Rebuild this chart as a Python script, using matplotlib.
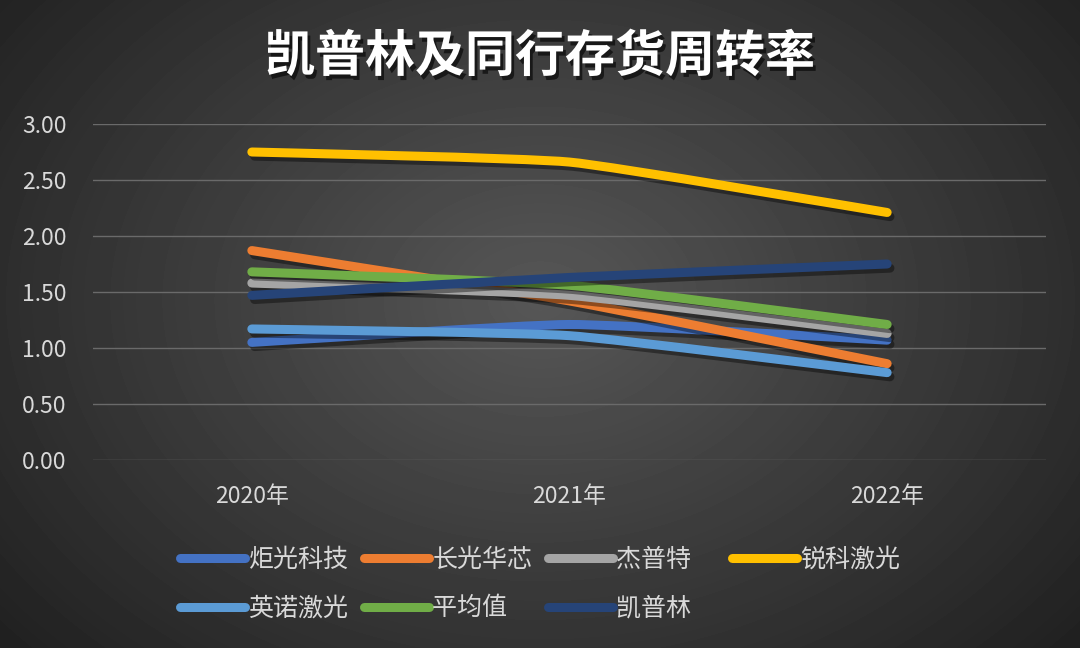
import numpy as np
import matplotlib
matplotlib.use('Agg')
import matplotlib.pyplot as plt
from matplotlib.path import Path
from matplotlib.patches import PathPatch
from matplotlib.lines import Line2D
import matplotlib.patheffects as pe

plt.rcParams['font.family'] = ['Noto Sans CJK SC', 'DejaVu Sans']

years = ['2020年', '2021年', '2022年']
jg = [1.05, 1.21, 1.07]      # 炬光科技
cg = [1.87, 1.42, 0.86]      # 长光华芯
jpt = [1.58, 1.47, 1.13]     # 杰普特
rk = [2.75, 2.66, 2.21]      # 锐科激光
yn = [1.17, 1.11, 0.78]      # 英诺激光
avg = [1.68, 1.56, 1.21]     # 平均值
kpl = [1.47, 1.63, 1.75]     # 凯普林

series = [
    ('炬光科技', jg, '#4472C4'),
    ('长光华芯', cg, '#ED7D31'),
    ('杰普特', jpt, '#A5A5A5'),
    ('锐科激光', rk, '#FFC000'),
    ('英诺激光', yn, '#5B9BD5'),
    ('平均值', avg, '#70AD47'),
    ('凯普林', kpl, '#264478'),
]

fig = plt.figure(figsize=(10.8, 6.48), dpi=100)

# radial dark background
bg = fig.add_axes([0, 0, 1, 1], zorder=-10)
yy, xx = np.mgrid[0:648, 0:1080]
r = np.sqrt(((xx - 540) / 700.0) ** 2 + ((yy - 300) / 520.0) ** 2)
shade = np.clip(0.34 - 0.21 * r, 0.10, 0.34)
bg.imshow(shade, cmap='gray', vmin=0, vmax=1, aspect='auto')
bg.axis('off')

ax = fig.add_axes([93 / 1080, 1 - 460 / 648, (1046 - 93) / 1080, 336 / 648])
ax.patch.set_alpha(0)


def smooth_path(y, k=14.0):
    # lightly smoothed line (bezier through the data points)
    p = [np.array([i, v]) for i, v in enumerate(y)]
    verts = [p[0]]
    codes = [Path.MOVETO]
    n = len(p)
    for i in range(n - 1):
        p0 = p[i - 1] if i > 0 else p[i]
        p3 = p[i + 2] if i + 2 < n else p[i + 1]
        c1 = p[i] + (p[i + 1] - p0) / k
        c2 = p[i + 1] - (p3 - p[i]) / k
        verts += [c1, c2, p[i + 1]]
        codes += [Path.CURVE4] * 3
    return Path(verts, codes)


handles = {}
for name, vals, col in series:
    patch = PathPatch(smooth_path(vals), fill=False, edgecolor=col, lw=6.5,
                      capstyle='round', joinstyle='round', zorder=3)
    patch.set_path_effects([pe.SimpleLineShadow(offset=(2, -3), shadow_color='black', alpha=0.4),
                            pe.Normal()])
    ax.add_patch(patch)
    handles[name] = Line2D([], [], color=col, lw=6.5, solid_capstyle='round')

ax.set_xlim(-0.5, 2.5)
ax.set_ylim(0, 3)
ax.set_xticks(range(3))
ax.set_xticklabels(years)
ax.set_yticks(np.arange(0, 3.01, 0.5))
ax.set_yticklabels(['%.2f' % v for v in np.arange(0, 3.01, 0.5)])
ax.tick_params(length=0, colors='#D9D9D9', labelsize=16.5)
ax.tick_params(axis='y', pad=19)
ax.tick_params(axis='x', pad=18)
ax.grid(axis='y', color='#6A6A6A', lw=1)
ax.set_axisbelow(True)
for s in ax.spines.values():
    s.set_visible(False)

order = ['炬光科技', '英诺激光', '长光华芯', '平均值', '杰普特', '凯普林', '锐科激光']
labels = [n if len(n) == 4 else n + '\u3000' for n in order]
leg = fig.legend([handles[n] for n in order], labels, ncol=4, loc='center',
                 bbox_to_anchor=(0.5, 1 - 584 / 648), frameon=False, fontsize=18,
                 handlelength=2.6, handletextpad=0.16, columnspacing=0.6,
                 labelspacing=0.9, labelcolor='#D9D9D9')

fig.text(0.5, 1 - 57 / 648, '凯普林及同行存货周转率', ha='center', va='center',
         fontsize=36, fontweight='bold', color='white',
         path_effects=[pe.withSimplePatchShadow(offset=(2, -3), shadow_rgbFace='black', alpha=0.6)])

fig.savefig('out.png', dpi=100)
